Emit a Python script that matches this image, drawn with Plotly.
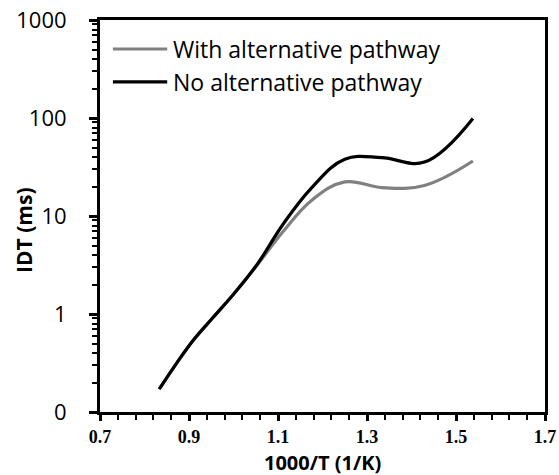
import plotly.graph_objects as go

# 1000/T values (1/K)
inv_T = [0.833, 0.872, 0.910, 0.952, 1.000, 1.053, 1.111, 1.176, 1.250, 1.333, 1.429, 1.538]
# Ignition delay times (ms)
idt_with_alt = [0.171, 0.314, 0.543, 0.90, 1.59, 3.15, 6.9, 14.5, 22.3, 19.5, 20.5, 36.4]
idt_no_alt = [0.171, 0.314, 0.543, 0.90, 1.59, 3.20, 8.2, 19.5, 38.0, 39.5, 35.5, 99.0]

series_names = ["With alternative pathway", "No alternative pathway"]
series_colors = ["#808080", "#000000"]

y_tickvals = [0.1, 1, 10, 100, 1000]
y_ticktext = ["0", "1", "10", "100", "1000"]
y_minorvals = [m * 10 ** e for e in range(-1, 3) for m in range(2, 10)]
x_tickvals = [0.7, 0.9, 1.1, 1.3, 1.5, 1.7]
x_ticktext = ["0.7", "0.9", "1.1", "1.3", "1.5", "1.7"]
x_minorvals = [round(0.7 + 0.04 * i, 2) for i in range(26) if i % 5 != 0]

fig = go.Figure()
for name, ys, col in zip(series_names, [idt_with_alt, idt_no_alt], series_colors):
    fig.add_trace(go.Scatter(
        x=inv_T, y=ys, mode="lines", name=name, showlegend=False,
        line=dict(color=col, width=3.2, shape="spline", smoothing=1.1),
    ))

# legend drawn as line samples + text
legend_rows_y = [0.926, 0.842]
shapes = []
annotations = []
for name, col, yy in zip(series_names, series_colors, legend_rows_y):
    shapes.append(dict(type="line", xref="paper", yref="paper",
                       x0=0.029, x1=0.151, y0=yy, y1=yy,
                       line=dict(color=col, width=3.2)))
    annotations.append(dict(xref="paper", yref="paper", x=0.16, y=yy,
                            xanchor="left", yanchor="middle", showarrow=False,
                            text=name,
                            font=dict(family="Open Sans", size=23, color="#000000")))

annotations.append(dict(xref="paper", yref="paper", x=0.5, y=0, yshift=-50,
                        xanchor="center", yanchor="middle", showarrow=False,
                        text="<b>1000/T (1/K)</b>",
                        font=dict(family="Open Sans", size=20, color="#000000")))
annotations.append(dict(xref="paper", yref="paper", x=0, y=0.462, xshift=-76,
                        xanchor="center", yanchor="middle", showarrow=False,
                        textangle=-90, text="<b>IDT (ms)</b>",
                        font=dict(family="Open Sans", size=21, color="#000000")))

fig.update_layout(
    width=559, height=475,
    margin=dict(l=100, r=14, t=20, b=63),
    paper_bgcolor="white", plot_bgcolor="white",
    font=dict(family="Open Sans", color="#000000"),
    showlegend=False,
    shapes=shapes,
    annotations=annotations,
    xaxis=dict(
        range=[0.7, 1.7], tickmode="array", tickvals=x_tickvals, ticktext=x_ticktext,
        tickfont=dict(family="Liberation Serif", size=18, color="#000000", weight="bold"),
        ticks="outside", ticklen=6, tickwidth=2.5, tickcolor="black",
        minor=dict(tickmode="array", tickvals=x_minorvals, ticks="outside",
                   ticklen=5, tickwidth=2, tickcolor="black", showgrid=False),
        showline=True, linecolor="black", linewidth=3, mirror=True,
        showgrid=False, zeroline=False, automargin=False,
    ),
    yaxis=dict(
        type="log", range=[-1, 3], tickmode="array", tickvals=y_tickvals, ticktext=y_ticktext,
        tickfont=dict(family="Open Sans", size=22, color="#000000"),
        ticks="outside", ticklen=8, tickwidth=2.5, tickcolor="black",
        minor=dict(tickmode="array", tickvals=y_minorvals, ticks="outside",
                   ticklen=5, tickwidth=2, tickcolor="black", showgrid=False),
        showline=True, linecolor="black", linewidth=3, mirror=True,
        showgrid=False, zeroline=False, automargin=False,
        ticklabelstandoff=18,
    ),
)

fig.write_html("out.html")
